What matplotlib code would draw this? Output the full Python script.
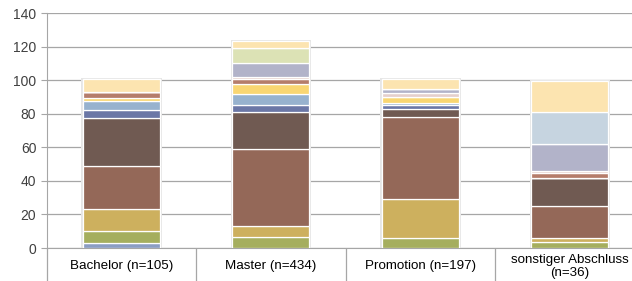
import matplotlib.pyplot as plt
import numpy as np

plt.rcParams['font.family'] = ['Liberation Sans', 'DejaVu Sans']
plt.rcParams['font.size'] = 9

categories = ['Bachelor (n=105)', 'Master (n=434)', 'Promotion (n=197)',
              'sonstiger Abschluss\n(n=36)']

# stacked from bottom to top
slate = [3.2, 0, 0, 0]
green = [6.9, 6.3, 6.1, 3.3]
gold = [12.9, 6.8, 23.1, 2.7]
red_brown = [26.0, 46.2, 48.8, 19.0]
dark_brown = [28.2, 21.7, 5.0, 16.9]
navy = [5.0, 4.2, 2.2, 0]
light_blue = [5.6, 6.8, 1.3, 0]
yellow = [1.7, 6.0, 3.3, 0]
rust = [3.4, 2.8, 0, 2.6]
pink = [0, 1.2, 2.6, 1.2]
lavender = [0, 8.0, 2.3, 16.3]
light_green = [0, 9.1, 0, 0]
steel = [0, 0, 0, 19.0]
cream = [8.1, 4.2, 6.3, 18.5]

series = [
    (slate, '#8B9DC3'), (green, '#A5AE5E'), (gold, '#CDB05E'),
    (red_brown, '#946858'), (dark_brown, '#705A52'), (navy, '#6B77A6'),
    (light_blue, '#97B2CE'), (yellow, '#F9D672'), (rust, '#B57D6B'),
    (pink, '#E5D0CC'), (lavender, '#B2B3C9'), (light_green, '#DCE2B5'),
    (steel, '#C6D4E0'), (cream, '#FCE4B0'),
]

fig = plt.figure(figsize=(6.32, 2.81), dpi=100)
ax = fig.add_axes([0.074, 0.1174, 0.946, 0.836])

x = np.arange(len(categories))
width = 0.515

# soft shadow behind each bar
totals = np.sum([s for s, _ in series], axis=0)
ax.bar(x, totals + 1.0, width=width + 0.025, bottom=-0.6,
       color='#E6E6E6', linewidth=0, zorder=2)

bottom = np.zeros(len(categories))
for vals, col in series:
    vals = np.array(vals)
    ax.bar(x, vals, width=width, bottom=bottom, color=col,
           edgecolor='white', linewidth=0.9, zorder=3)
    bottom += vals

ax.set_ylim(0, 140)
ax.set_yticks(range(0, 141, 20))
ax.set_xlim(-0.5, len(categories) - 0.5)
ax.yaxis.grid(True, color='#A6A6A6', linewidth=0.9)
ax.set_axisbelow(True)

for s in ['top', 'right']:
    ax.spines[s].set_visible(False)
for s in ['left', 'bottom']:
    ax.spines[s].set_color('#A6A6A6')

ax.tick_params(axis='y', length=4, color='#A6A6A6', colors='#404040', labelsize=10)
ax.set_xticks(x)
ax.set_xticklabels(categories)
ax.tick_params(axis='x', which='major', length=0, pad=13, labelsize=9.6, labelcolor='black')
for lbl in ax.get_xticklabels():
    lbl.set_va('center')
    lbl.set_linespacing(1.1)
ax.set_xticks(np.arange(-0.5, len(categories), 1), minor=True)
ax.tick_params(axis='x', which='minor', length=24, color='#A6A6A6', width=0.9)

fig.savefig('out.png', dpi=100)
